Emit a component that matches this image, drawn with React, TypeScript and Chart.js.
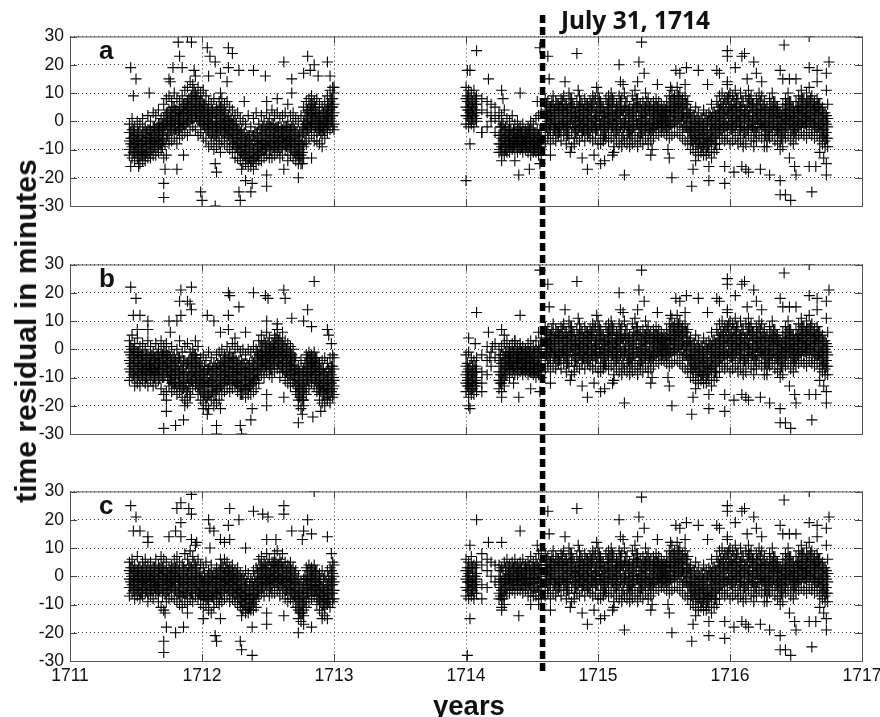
import React, { useEffect, useRef } from "react";
import { Chart, registerables } from "chart.js";

Chart.register(...registerables);

const FONT = '"Liberation Sans", Arial, sans-serif';
const yearTicks = ["1711", "1712", "1713", "1714", "1715", "1716", "1717"];
const eventYear = 1714.58;
const panelLetters = ["a", "b", "c"];

// Every row is [year, residual, residual, ...]
const lateBand = [
[1714.6,8,4,1,-3,-7],[1714.62,7,3,0,-4,-6,2],[1714.64,5,2,-1,-5,-8],[1714.66,9,6,2,-2,-6],[1714.68,7,3,-1,-3,-7],[1714.7,4,1,-2,-5,6],
[1714.72,8,5,1,-3,-7],[1714.74,9,4,0,-2,-5],[1714.76,6,3,-1,-4,-8],[1714.78,10,6,2,-2,-6],[1714.8,8,5,1,-4,-9],[1714.82,5,2,-2,-6,-8],
[1714.84,7,3,0,-3,-6],[1714.86,9,5,1,-2,-7],[1714.88,6,2,-1,-4,-5],[1714.9,8,4,0,-3,-7],[1714.92,6,3,-2,-5,1],[1714.94,7,4,1,-3,-6],
[1714.96,9,5,0,-4,-7],[1714.98,8,3,1,-2,-6],[1715,10,6,2,-3,-8],[1715.02,7,4,-1,-5,-8],[1715.04,5,2,-2,-6,-7],[1715.06,8,3,0,-4,-6],
[1715.08,9,5,1,-3,-7],[1715.1,10,6,2,-2,-6],[1715.12,7,2,-1,-5,-9],[1715.14,6,3,0,-3,-7],[1715.16,9,5,1,-4,-8],[1715.18,8,4,-1,-6,-9],
[1715.2,10,5,0,-2,-7],[1715.22,7,3,-2,-5,-8],[1715.24,5,1,-3,-6,-9],[1715.26,9,4,0,-4,-8],[1715.28,11,6,2,-3,-7],[1715.3,8,5,-1,-6,-9],
[1715.32,6,2,-2,-5,-7],[1715.34,7,3,0,-4,-8],[1715.36,10,5,1,-3,-6],[1715.38,8,4,-1,-5,-8],[1715.4,6,2,-2,-4,-7],[1715.42,7,4,1,-3,-6],
[1715.44,8,5,2,-1,-4],[1715.46,7,4,1,-2,-5],[1715.48,6,3,0,-2,-4],[1715.5,5,3,1,-1,-4],[1715.52,7,4,0,-3,-5],[1715.54,9,5,2,-2,-6],
[1715.56,11,7,3,-1,-5],[1715.58,9,6,2,-2,-4],[1715.6,12,8,4,0,-4],[1715.62,10,6,3,-1,-5],[1715.64,8,5,2,-3,-6],[1715.66,9,6,1,-2,-7],
[1715.68,7,3,0,-4,-8],[1715.7,4,1,-3,-6,-10],[1715.72,2,-2,-5,-8,-10],[1715.74,5,0,-4,-7,-11],[1715.76,3,-1,-5,-9,-12],[1715.78,1,-3,-6,-9,-11],
[1715.8,4,-1,-4,-8,-12],[1715.82,2,-2,-6,-10,-12],[1715.84,3,0,-5,-8,-11],[1715.86,6,1,-3,-7,-10],[1715.88,3,-1,-4,-8,-11],[1715.9,7,2,-2,-6,-10],
[1715.92,9,4,0,-4,-8],[1715.94,10,5,1,-3,-6],[1715.96,8,3,-1,-5,-7],[1715.98,13,8,3,-2,-6],[1716,10,5,1,-3,-8],[1716.02,9,4,0,-4,-7],
[1716.04,11,6,2,-2,-6],[1716.06,8,3,0,-5,-8],[1716.08,10,5,1,-3,-7],[1716.1,7,2,-2,-6,-9],[1716.12,9,4,1,-4,-8],[1716.14,11,7,2,-2,-5],
[1716.16,9,5,0,-3,-7],[1716.18,6,2,-2,-6,-9],[1716.2,8,4,1,-4,-7],[1716.22,10,6,2,-1,-5],[1716.24,9,4,0,-3,-6],[1716.26,7,3,-1,-5,-9],
[1716.28,5,1,-3,-7,-9],[1716.3,8,4,0,-4,-6],[1716.32,10,5,2,-2,-5],[1716.34,7,4,1,-3,-7],[1716.36,5,2,-2,-5,-8],[1716.38,3,0,-3,-7,-10],
[1716.4,6,2,-1,-5,-9],[1716.42,8,4,1,-3,-6],[1716.44,10,6,2,-1,-5],[1716.46,7,3,0,-4,-7],[1716.48,5,1,-2,-5,-8],[1716.5,7,4,0,-3,-6],
[1716.52,9,5,2,-2,-5],[1716.54,11,7,3,-1,-4],[1716.56,8,4,1,-2,-5],[1716.58,10,6,2,-2,-6],[1716.6,12,7,3,0,-4],[1716.62,9,5,1,-3,-5],
[1716.64,7,4,0,-2,-6],[1716.66,8,5,2,-2,-5],[1716.68,6,3,-1,-4,-7],[1716.7,5,1,-3,-6,-8],[1716.72,3,0,-4,-7,-9],[1716.74,6,1,-2,-6,-9],
];
const lateCore = [
[1714.61,6,3,1,-2],[1714.63,5,2,-1,-3],[1714.65,7,4,1,-1],[1714.67,4,2,0,-3],[1714.69,6,3,-1,-4],[1714.71,5,1,-2,-4],[1714.73,7,4,2,-1],[1714.75,6,3,0,-3],[1714.77,4,1,-2,-5],[1714.79,8,5,2,-1],[1714.81,6,3,0,-2],[1714.83,3,1,-2,-4],[1714.85,5,2,0,-3],[1714.87,7,4,1,-2],[1714.89,4,2,-1,-3],
[1714.91,6,3,0,-3],[1714.93,5,2,-1,-4],[1714.95,6,4,1,-2],[1714.97,7,3,0,-2],[1714.99,5,2,-1,-3],[1715.01,8,5,2,-1],[1715.03,5,2,0,-3],[1715.05,3,1,-2,-5],[1715.07,6,3,1,-2],[1715.09,7,4,1,-1],[1715.11,8,5,2,-2],[1715.13,4,2,-1,-4],[1715.15,5,3,0,-3],[1715.17,7,3,1,-2],[1715.19,4,2,-2,-5],
[1715.21,7,4,1,-1],[1715.23,4,1,-2,-4],[1715.25,3,0,-3,-5],[1715.27,6,3,0,-2],[1715.29,8,5,2,-1],[1715.31,5,2,-1,-4],[1715.33,4,1,-2,-4],[1715.35,5,3,0,-3],[1715.37,7,4,1,-2],[1715.39,5,2,-1,-3],[1715.41,4,1,-1,-3],[1715.43,5,3,1,-2],[1715.45,5,3,1,-1],[1715.47,4,2,0,-2],[1715.49,4,2,0,-2],[1715.51,4,2,0,-2],[1715.53,5,2,0,-2],
[1715.55,7,4,2,-1],[1715.57,8,5,2,0],[1715.59,7,5,3,0],[1715.61,9,6,3,1],[1715.63,7,5,2,0],[1715.65,6,3,1,-2],[1715.67,6,4,1,-2],[1715.69,3,1,-2,-4],[1715.71,1,-2,-4,-7],[1715.73,2,-1,-4,-6],[1715.75,1,-2,-5,-8],[1715.77,0,-3,-6,-8],[1715.79,1,-2,-5,-9],[1715.81,1,-3,-6,-8],[1715.83,0,-4,-7,-9],[1715.85,2,-1,-4,-7],[1715.87,3,0,-3,-6],[1715.89,2,-2,-5,-8],
[1715.91,5,2,-1,-4],[1715.93,6,3,0,-3],[1715.95,6,3,1,-2],[1715.97,7,4,1,-2],[1715.99,9,5,2,-1],[1716.01,6,3,0,-3],[1716.03,7,4,1,-2],[1716.05,8,5,2,-1],[1716.07,5,2,0,-3],[1716.09,7,4,1,-2],[1716.11,4,1,-2,-4],[1716.13,6,3,0,-3],[1716.15,8,5,2,-1],[1716.17,6,3,0,-2],[1716.19,4,1,-2,-4],
[1716.21,6,3,1,-2],[1716.23,7,4,2,-1],[1716.25,6,3,0,-2],[1716.27,4,1,-2,-5],[1716.29,3,0,-2,-5],[1716.31,6,3,1,-2],[1716.33,7,4,2,-1],[1716.35,5,3,0,-3],[1716.37,3,1,-2,-4],[1716.39,2,0,-3,-6],[1716.41,4,1,-1,-4],[1716.43,6,3,1,-2],[1716.45,7,4,2,-1],[1716.47,5,2,0,-3],[1716.49,3,1,-2,-4],
[1716.51,5,3,0,-2],[1716.53,7,4,2,-1],[1716.55,8,5,3,0],[1716.57,6,3,1,-1],[1716.59,7,5,2,0],[1716.61,8,5,3,0],[1716.63,6,4,1,-1],[1716.65,5,3,1,-2],[1716.67,6,3,1,-2],[1716.69,4,1,-1,-4],[1716.71,3,0,-3,-5],[1716.73,2,-1,-4,-6],
];

const lateOutliers = [
[1714.62,23],[1714.63,15],[1714.75,14],[1714.84,24],[1714.85,11],[1714.99,12],[1715.16,20],[1715.17,14],[1715.19,13],[1715.3,14],[1715.31,21],[1715.33,28],[1715.35,17],[1715.45,13],
[1715.55,12],[1715.59,18],[1715.62,17],[1715.66,13],[1715.67,19],[1715.76,18],[1715.83,13],[1715.9,18],[1715.92,17],[1715.98,25],[1715.98,23],[1715.98,14],[1716.04,19],[1716.09,23],[1716.11,24],
[1716.13,15],[1716.18,21],[1716.2,17],[1716.24,14],[1716.38,18],[1716.4,15],[1716.41,27],[1716.45,15],[1716.5,15],[1716.6,30],[1716.6,19],[1716.66,18],[1716.66,14],[1716.73,17],[1716.73,11],[1716.75,21],
[1714.64,-12],[1714.79,-11],[1714.88,-13],[1714.92,-17],[1714.97,-12],[1715.02,-15],[1715.05,-14],[1715.11,-12],[1715.12,-11],[1715.2,-19],[1715.4,-12],[1715.41,-10],[1715.53,-10],[1715.54,-13],[1715.56,-20],
[1715.71,-23],[1715.72,-17],[1715.74,-14],[1715.84,-16],[1715.84,-21],[1715.86,-13],[1715.96,-22],[1715.96,-16],[1716.03,-18],[1716.09,-16],[1716.12,-17],[1716.14,-18],[1716.23,-17],[1716.3,-19],
[1716.38,-21],[1716.38,-26],[1716.42,-26],[1716.45,-13],[1716.46,-28],[1716.49,-16],[1716.5,-19],[1716.6,-16],[1716.62,-25],[1716.65,-16],[1716.68,-11],[1716.71,-13],[1716.73,-15],[1716.73,-19],
];

const panelABand = [
[1711.45,-1,-4,-7,-10,-12],[1711.47,1,-3,-6,-9,-13],[1711.49,-2,-5,-8,-11,-14],[1711.51,0,-4,-7,-10,-13],[1711.53,-1,-5,-8,-12,-15],[1711.55,1,-3,-7,-11,-14],
[1711.57,-2,-6,-9,-12,-14],[1711.59,2,-3,-6,-10,-13],[1711.61,0,-4,-7,-11,-13],[1711.63,3,-2,-5,-9,-12],[1711.65,2,-3,-6,-8,-12],[1711.67,4,-1,-4,-7,-11],
[1711.69,1,-2,-5,-8,-10],[1711.71,6,1,-3,-7,-13],[1711.73,8,3,-1,-6,-12],[1711.75,9,4,0,-4,-8],[1711.77,7,3,0,-3,-7],[1711.79,10,5,1,-2,-6],[1711.81,8,4,1,-4,-8],
[1711.83,7,3,-1,-3,-6],[1711.85,9,5,2,-2,-5],[1711.87,11,6,3,-1,-4],[1711.89,12,7,3,0,-5],[1711.91,14,8,4,1,-3],[1711.93,13,9,5,1,-2],[1711.95,16,10,6,2,-3],[1711.97,12,8,4,0,-5],
[1711.99,10,7,3,0,-4],[1712.01,11,6,3,-1,-6],[1712.03,9,5,1,-3,-7],[1712.05,7,4,0,-4,-9],[1712.07,6,2,-1,-5,-8],[1712.09,8,3,-2,-6,-10],[1712.11,5,1,-3,-7,-9],[1712.13,7,3,-1,-5,-8],
[1712.15,8,4,0,-4,-7],[1712.17,6,2,-2,-6,-8],[1712.19,7,1,-3,-5,-9],[1712.21,5,0,-3,-7,-10],[1712.23,4,-1,-4,-8,-11],[1712.25,2,-2,-6,-9,-13],[1712.27,3,-3,-7,-10,-13],[1712.29,1,-4,-8,-11,-14],
[1712.31,0,-5,-9,-12,-15],[1712.33,-1,-6,-10,-13,-15],[1712.35,2,-5,-9,-13,-16],[1712.37,-2,-7,-11,-14,-16],[1712.39,1,-5,-10,-13,-17],[1712.41,3,-4,-8,-12,-15],[1712.43,-1,-6,-9,-12,-14],[1712.45,2,-3,-7,-11,-14],
[1712.47,0,-4,-8,-10,-13],[1712.49,3,-2,-6,-9,-12],[1712.51,1,-3,-7,-10,-13],[1712.53,4,-1,-5,-9,-13],[1712.55,2,-3,-6,-9,-12],[1712.57,3,-2,-5,-8,-11],[1712.59,1,-4,-7,-10,-13],[1712.61,2,-3,-6,-9,-12],
[1712.63,3,-2,-5,-8,-10],[1712.65,0,-4,-7,-10,-14],[1712.67,2,-3,-6,-9,-12],[1712.69,3,-1,-5,-9,-13],[1712.71,1,-4,-8,-11,-14],[1712.73,0,-5,-9,-12,-15],[1712.75,2,-4,-8,-12,-15],[1712.77,5,0,-4,-9,-13],
[1712.79,7,3,-1,-4,-8],[1712.81,8,4,1,-2,-6],[1712.83,9,5,2,-1,-5],[1712.85,7,4,1,-3,-7],[1712.87,8,3,0,-4,-7],[1712.89,6,2,-1,-3,-8],[1712.91,5,1,-2,-5,-9],[1712.93,7,3,0,-3,-6],[1712.95,9,5,2,-1,-4],[1712.97,11,7,4,1,-3],[1712.99,12,8,5,2,-2],[1713,10,6,3,-1,-3],
[1714,12,8,5,2,-1],[1714.02,11,7,4,1,-2],[1714.04,10,6,3,0,-1],[1714.06,11,7,4,2,-2],[1714.08,9,6,3,1,0],
[1714.12,8,4,-4],[1714.16,7,3,-2],[1714.19,6,2,0],[1714.22,5,1,-4],
[1714.25,3,0,-5,-8,-11],[1714.27,2,-2,-6,-9,-11],[1714.29,4,-3,-6,-9,-12],[1714.31,1,-4,-7,-10,-11],[1714.33,0,-3,-6,-9,-11],[1714.35,2,-4,-7,-9,-10],[1714.37,-1,-4,-6,-8,-10],[1714.39,0,-3,-6,-8,-11],
[1714.41,-2,-4,-6,-9,-10],[1714.43,-1,-5,-7,-9,-11],[1714.45,-3,-5,-7,-8,-10],[1714.47,-2,-4,-6,-9,-11],[1714.49,0,-4,-7,-9,-12],[1714.51,-1,-5,-7,-10,-11],[1714.53,1,-4,-7,-9,-11],[1714.55,2,-5,-8,-10,-12],[1714.57,3,-3,-7,-9,-12],
];
const panelACore = [
[1711.46,-4,-6,-8,-10],[1711.48,-3,-6,-8,-11],[1711.5,-5,-7,-9,-11],[1711.52,-4,-7,-9,-12],[1711.54,-5,-8,-10,-12],[1711.56,-4,-7,-10,-12],[1711.58,-4,-6,-9,-11],[1711.6,-3,-6,-8,-11],[1711.62,-4,-6,-8,-10],[1711.64,-2,-5,-7,-9],[1711.66,-2,-4,-7,-9],[1711.68,-1,-3,-5,-8],[1711.7,-1,-4,-6,-9],[1711.72,2,-1,-3,-8],[1711.74,3,0,-2,-5],
[1711.76,3,1,-1,-3],[1711.78,5,2,0,-3],[1711.8,4,1,-1,-3],[1711.82,3,1,-1,-3],[1711.84,4,2,0,-2],[1711.86,6,3,1,-1],[1711.88,6,4,1,-1],[1711.9,8,5,2,0],[1711.92,9,6,3,1],[1711.94,11,7,4,1],[1711.96,9,6,3,1],[1711.98,7,5,2,0],[1712,7,4,2,-1],[1712.02,6,3,1,-2],[1712.04,4,2,-1,-3],[1712.06,3,1,-1,-4],[1712.08,4,1,-2,-4],[1712.1,3,0,-2,-5],[1712.12,4,1,-2,-4],[1712.14,5,2,0,-3],[1712.16,4,1,-1,-4],[1712.18,3,0,-2,-4],[1712.2,2,0,-3,-5],[1712.22,1,-1,-4,-6],[1712.24,0,-3,-5,-8],
[1712.26,-1,-3,-6,-9],[1712.28,-3,-5,-8,-10],[1712.3,-3,-6,-9,-11],[1712.32,-4,-7,-10,-12],[1712.34,-5,-7,-10,-13],[1712.36,-5,-8,-11,-13],[1712.38,-5,-8,-11,-14],[1712.4,-4,-7,-10,-13],[1712.42,-4,-7,-10,-12],[1712.44,-3,-6,-9,-11],[1712.46,-2,-5,-8,-10],[1712.48,-3,-5,-8,-10],[1712.5,-1,-4,-7,-9],[1712.52,-2,-5,-8,-10],[1712.54,-1,-4,-6,-9],[1712.56,-2,-4,-7,-9],[1712.58,-2,-5,-7,-9],[1712.6,-2,-4,-6,-9],[1712.62,-2,-4,-6,-8],[1712.64,-2,-4,-7,-9],[1712.66,-3,-5,-7,-9],[1712.68,-2,-5,-7,-10],[1712.7,-3,-6,-8,-11],[1712.72,-4,-7,-10,-12],[1712.74,-4,-7,-10,-13],[1712.76,-2,-5,-8,-11],
[1712.78,2,-1,-3,-7],[1712.8,4,1,-1,-3],[1712.82,6,3,0,-2],[1712.84,6,3,1,-1],[1712.86,5,2,0,-2],[1712.88,3,1,-1,-3],[1712.9,2,0,-2,-4],[1712.92,3,1,-1,-3],[1712.94,4,2,0,-2],[1712.96,6,3,1,-1],[1712.98,8,5,2,0],
[1714.01,9,7,4,2],[1714.03,8,5,3,1],[1714.05,7,5,3,1],[1714.07,8,6,3,1],
[1714.26,-2,-5,-8,-10],[1714.28,-1,-4,-7,-10],[1714.3,-2,-5,-8,-10],[1714.32,-3,-5,-7,-9],[1714.34,-3,-5,-8,-9],[1714.36,-3,-5,-7,-9],[1714.38,-4,-6,-7,-9],[1714.4,-3,-5,-7,-9],[1714.42,-4,-6,-8,-9],[1714.44,-4,-6,-7,-9],[1714.46,-4,-6,-8,-9],[1714.48,-3,-5,-7,-9],[1714.5,-3,-6,-8,-10],[1714.52,-4,-6,-8,-10],[1714.54,-3,-6,-8,-10],[1714.56,-3,-6,-8,-10],
];
const panelAOutliers = [
[1711.46,19],[1711.48,9],[1711.5,15],[1711.6,10],[1711.75,15],[1711.76,14],[1711.78,19],[1711.82,28],[1711.83,23],[1711.85,19],[1711.89,30],[1711.92,28],[1711.94,18],[1712.04,26],[1712.05,16],[1712.06,23],[1712.1,21],[1712.14,17],[1712.14,10],[1712.19,14],[1712.2,26],[1712.2,19],[1712.23,24],[1712.28,18],[1712.32,7],[1712.39,18],[1712.48,16],[1712.49,7],[1712.57,8],[1712.62,21],[1712.65,6],[1712.68,15],[1712.68,10],[1712.77,17],[1712.8,23],[1712.82,18],[1712.85,20],[1712.88,16],[1712.95,21],[1712.97,16],[1713,12],
[1711.46,-16],[1711.52,-16],[1711.71,-27],[1711.71,-22],[1711.72,-17],[1711.81,-17],[1711.86,-12],[1711.99,-25],[1712,-28],[1712.1,-30],[1712.1,-15],[1712.11,-18],[1712.14,-11],[1712.28,-25],[1712.29,-28],[1712.3,-17],[1712.33,-21],[1712.37,-25],[1712.38,-22],[1712.49,-23],[1712.49,-19],[1712.62,-17],[1712.73,-20],[1712.76,-15],[1712.83,-13],
[1714,-21],[1714.01,18],[1714.03,18],[1714.03,-8],[1714.08,25],[1714.12,-4],[1714.17,15],[1714.27,11],[1714.27,-14],[1714.28,8],[1714.37,-14],[1714.4,-19],[1714.41,10],[1714.48,-17],[1714.56,26],[1714.56,-15],[1714.54,7],
];

const panelBBand = [
[1711.45,3,-1,-4,-7,-11],[1711.47,5,0,-3,-6,-10],[1711.49,2,-2,-5,-9,-13],[1711.51,4,-1,-4,-8,-12],[1711.53,1,-3,-6,-10,-13],[1711.55,2,-2,-5,-8,-11],[1711.57,0,-4,-7,-10,-12],[1711.59,3,-2,-6,-9,-13],
[1711.61,1,-3,-6,-8,-11],[1711.63,-1,-4,-7,-10,-13],[1711.65,2,-3,-5,-8,-12],[1711.67,0,-4,-7,-9,-11],[1711.69,3,-1,-5,-9,-14],[1711.71,1,-3,-6,-10,-16],[1711.73,2,-2,-5,-8,-15],[1711.75,-1,-5,-8,-11,-13],
[1711.77,1,-4,-8,-12,-15],[1711.79,-2,-6,-9,-12,-14],[1711.81,0,-5,-9,-13,-16],[1711.83,3,-3,-8,-12,-15],[1711.85,-1,-6,-10,-14,-17],[1711.87,1,-4,-9,-13,-18],[1711.89,2,-5,-10,-15,-19],[1711.91,-1,-5,-9,-12,-16],
[1711.93,0,-4,-8,-11,-14],[1711.95,3,-2,-6,-10,-13],[1711.97,1,-5,-9,-13,-16],[1711.99,-3,-7,-11,-15,-18],[1712.01,-2,-8,-12,-16,-19],[1712.03,-4,-9,-13,-17,-20],[1712.05,-1,-7,-12,-16,-21],[1712.07,-3,-8,-11,-15,-18],
[1712.09,-5,-9,-13,-16,-20],[1712.11,-2,-7,-11,-15,-19],[1712.13,-1,-6,-10,-14,-18],[1712.15,0,-5,-9,-13,-16],[1712.17,-2,-6,-9,-12,-15],[1712.19,1,-4,-8,-11,-14],[1712.21,-1,-5,-8,-12,-15],[1712.23,2,-3,-7,-10,-14],
[1712.25,0,-4,-8,-11,-13],[1712.27,1,-5,-9,-12,-15],[1712.29,-1,-6,-10,-13,-16],[1712.31,0,-5,-9,-13,-16],[1712.33,-2,-7,-11,-14,-17],[1712.35,0,-6,-10,-14,-16],[1712.37,-1,-7,-11,-13,-16],[1712.39,1,-5,-9,-12,-15],
[1712.41,0,-4,-8,-11,-14],[1712.43,3,-2,-5,-9,-12],[1712.45,5,1,-3,-6,-9],[1712.47,3,-1,-4,-7,-10],[1712.49,6,1,-3,-5,-8],[1712.51,4,0,-2,-6,-9],[1712.53,2,-1,-4,-7,-10],[1712.55,5,1,-2,-5,-8],[1712.57,7,3,-1,-4,-7],
[1712.59,4,0,-3,-6,-10],[1712.61,6,2,-2,-5,-8],[1712.63,3,-1,-4,-8,-11],[1712.65,2,-2,-5,-9,-12],[1712.67,1,-3,-6,-10,-13],[1712.69,0,-4,-7,-9,-12],[1712.71,-3,-7,-10,-13,-15],[1712.73,-6,-10,-14,-18,-20],[1712.75,-4,-9,-13,-17,-21],[1712.77,-7,-11,-15,-18,-20],
[1712.79,-2,-5,-9,-13,-16],[1712.81,-1,-4,-7,-11,-14],[1712.83,-2,-5,-8,-10,-12],[1712.85,-1,-4,-6,-9,-13],[1712.87,-3,-6,-9,-12,-15],[1712.89,-5,-9,-13,-16,-18],[1712.91,-4,-8,-12,-15,-19],[1712.93,-3,-9,-13,-16,-20],[1712.95,-5,-10,-14,-17,-18],[1712.97,-3,-8,-12,-16,-19],[1712.99,-2,-6,-10,-14,-17],[1713,-3,-7,-11,-13,-16],
[1714,-2,-6,-9,-12,-15],[1714.02,-1,-7,-10,-13,-17],[1714.04,-3,-8,-11,-14,-16],[1714.06,-4,-8,-10,-13,-16],[1714.08,-3,-7,-10,-12,-15],
[1714.12,-2,-8,-12],[1714.16,1,-4,-9],[1714.19,-1,-6],[1714.22,2,-3],
[1714.25,0,-4,-8,-11,-14],[1714.27,1,-5,-9,-12,-15],[1714.29,2,-3,-7,-10,-13],[1714.31,3,-1,-4,-6,-9],[1714.33,1,-2,-5,-7,-10],[1714.35,2,-1,-4,-6,-8],[1714.37,3,0,-3,-6,-9],[1714.39,1,-2,-4,-7,-9],
[1714.41,2,0,-3,-5,-8],[1714.43,1,-2,-5,-7,-9],[1714.45,0,-2,-4,-6,-8],[1714.47,2,-1,-3,-6,-9],[1714.49,3,-1,-4,-7,-8],[1714.51,1,-2,-5,-7,-9],[1714.53,3,0,-4,-7,-10],[1714.55,6,1,-3,-6,-9],[1714.57,4,0,-4,-8,-10],
];
const panelBCore = [
[1711.46,1,-2,-5,-8],[1711.48,0,-3,-6,-9],[1711.5,-1,-4,-7,-10],[1711.52,-1,-3,-6,-9],[1711.54,-2,-4,-7,-9],[1711.56,-2,-5,-7,-9],[1711.58,-2,-4,-7,-10],[1711.6,-3,-5,-7,-9],[1711.62,-2,-5,-7,-9],[1711.64,-3,-5,-8,-10],[1711.66,-2,-5,-7,-9],[1711.68,-3,-5,-7,-10],[1711.7,-2,-4,-7,-10],[1711.72,-1,-4,-6,-9],[1711.74,-2,-5,-7,-10],
[1711.76,-3,-6,-9,-11],[1711.78,-3,-6,-9,-12],[1711.8,-4,-7,-10,-12],[1711.82,-3,-6,-9,-12],[1711.84,-4,-7,-10,-13],[1711.86,-4,-8,-11,-14],[1711.88,-5,-8,-12,-15],[1711.9,-4,-7,-10,-13],[1711.92,-3,-6,-9,-11],[1711.94,-2,-5,-8,-10],[1711.96,-3,-6,-9,-12],[1711.98,-5,-8,-11,-14],[1712,-6,-9,-12,-15],[1712.02,-6,-10,-13,-16],[1712.04,-7,-10,-13,-17],[1712.06,-6,-9,-12,-16],[1712.08,-7,-10,-13,-15],[1712.1,-6,-10,-13,-16],[1712.12,-5,-8,-11,-14],[1712.14,-4,-7,-10,-13],
[1712.16,-4,-6,-9,-12],[1712.18,-3,-6,-8,-11],[1712.2,-3,-6,-9,-11],[1712.22,-3,-5,-8,-11],[1712.24,-3,-6,-8,-11],[1712.26,-4,-7,-9,-12],[1712.28,-4,-7,-10,-13],[1712.3,-4,-7,-10,-13],[1712.32,-5,-8,-11,-14],[1712.34,-5,-8,-11,-14],[1712.36,-5,-8,-11,-13],[1712.38,-4,-7,-10,-12],[1712.4,-3,-6,-9,-11],[1712.42,-1,-4,-7,-9],[1712.44,1,-2,-4,-7],[1712.46,1,-2,-4,-6],[1712.48,2,-1,-3,-6],[1712.5,2,-1,-3,-5],[1712.52,1,-2,-4,-7],[1712.54,2,0,-3,-5],[1712.56,4,1,-1,-4],[1712.58,3,0,-2,-5],[1712.6,2,-1,-3,-6],[1712.62,1,-2,-4,-7],[1712.64,0,-3,-5,-8],[1712.66,-1,-4,-6,-9],[1712.68,-2,-4,-6,-9],[1712.7,-3,-6,-9,-11],[1712.72,-7,-10,-13,-16],[1712.74,-8,-11,-14,-17],[1712.76,-8,-12,-15,-18],
[1712.78,-5,-8,-11,-14],[1712.8,-3,-6,-9,-11],[1712.82,-3,-5,-8,-10],[1712.84,-3,-5,-7,-10],[1712.86,-3,-6,-8,-11],[1712.88,-5,-8,-11,-14],[1712.9,-7,-10,-13,-15],[1712.92,-7,-11,-14,-16],[1712.94,-8,-11,-14,-16],[1712.96,-7,-11,-14,-16],[1712.98,-6,-9,-12,-15],
[1714.01,-5,-8,-11,-13],[1714.03,-6,-9,-12,-14],[1714.05,-6,-9,-12,-14],[1714.07,-6,-8,-11,-13],
[1714.26,-2,-6,-9,-12],[1714.28,-2,-5,-8,-11],[1714.3,-1,-3,-6,-9],[1714.32,-1,-3,-5,-7],[1714.34,-1,-3,-5,-7],[1714.36,-1,-3,-5,-7],[1714.38,-1,-3,-5,-7],[1714.4,-1,-3,-5,-7],[1714.42,-1,-3,-5,-7],[1714.44,-1,-3,-5,-7],[1714.46,-1,-3,-5,-7],[1714.48,-1,-3,-5,-8],[1714.5,-1,-3,-5,-8],[1714.52,-1,-3,-6,-8],[1714.54,-1,-4,-6,-8],[1714.56,0,-3,-6,-9],
];
const panelBOutliers = [
[1711.46,22],[1711.48,12],[1711.5,18],[1711.51,7],[1711.53,12],[1711.59,10],[1711.59,7],[1711.75,10],[1711.76,6],[1711.81,10],[1711.83,17],[1711.84,21],[1711.84,12],[1711.89,17],[1711.91,16],[1711.92,22],[1711.92,14],[1712.04,12],[1712.09,10],[1712.14,6],[1712.2,20],[1712.2,12],[1712.2,7],[1712.21,19],[1712.25,4],[1712.28,15],[1712.33,6],[1712.39,20],[1712.48,19],[1712.49,10],[1712.5,18],[1712.57,9],[1712.62,21],[1712.63,18],[1712.68,11],[1712.77,10],[1712.8,14],[1712.83,8],[1712.85,24],[1712.95,7],[1712.96,5],[1712.98,2],
[1711.71,-28],[1711.73,-22],[1711.73,-18],[1711.8,-27],[1711.86,-25],[1711.87,-20],[1711.91,-17],[1712.01,-21],[1712.04,-23],[1712.11,-27],[1712.11,-30],[1712.14,-21],[1712.29,-27],[1712.3,-30],[1712.3,-16],[1712.37,-25],[1712.38,-21],[1712.49,-20],[1712.49,-16],[1712.62,-17],[1712.73,-26],[1712.76,-23],[1712.84,-24],[1712.9,-22],
[1714.02,4],[1714.02,-20],[1714.03,-21],[1714.07,2],[1714.08,13],[1714.12,-15],[1714.17,6],[1714.18,-3],[1714.2,1],[1714.27,7],[1714.27,-17],[1714.29,5],[1714.36,-12],[1714.37,3],[1714.4,-17],[1714.41,12],[1714.49,-14],[1714.56,28],[1714.56,-15],
];

const panelCBand = [
[1711.45,5,2,-1,-4,-7],[1711.47,6,3,0,-3,-6],[1711.49,4,1,-2,-5,-8],[1711.51,7,2,-1,-4,-7],[1711.53,3,0,-3,-6,-8],[1711.55,5,1,-2,-5,-7],[1711.57,6,2,-1,-3,-6],[1711.59,4,0,-3,-6,-9],
[1711.61,5,1,-1,-4,-7],[1711.63,3,0,-2,-5,-8],[1711.65,6,2,-2,-4,-6],[1711.67,4,1,-3,-6,-9],[1711.69,7,3,0,-4,-11],[1711.71,6,2,-1,-5,-12],[1711.73,5,1,-2,-6,-9],[1711.75,3,0,-3,-5,-8],
[1711.77,4,1,-2,-4,-7],[1711.79,6,2,-1,-4,-8],[1711.81,7,3,0,-5,-9],[1711.83,5,1,-2,-6,-10],[1711.85,4,0,-4,-7,-11],[1711.87,8,2,-2,-6,-9],[1711.89,6,1,-3,-7,-10],[1711.91,9,3,-1,-5,-8],
[1711.93,7,2,-2,-6,-9],[1711.95,11,4,0,-4,-7],[1711.97,6,1,-3,-6,-8],[1711.99,4,0,-4,-7,-10],[1712.01,3,-2,-5,-8,-11],[1712.03,5,-1,-4,-7,-10],[1712.05,2,-2,-6,-9,-12],[1712.07,4,0,-3,-7,-13],
[1712.09,1,-2,-5,-8,-11],[1712.11,3,-1,-4,-6,-9],[1712.13,2,-2,-5,-8,-10],[1712.15,4,0,-3,-6,-9],[1712.17,6,1,-2,-5,-8],[1712.19,5,2,-1,-4,-7],[1712.21,3,0,-3,-6,-9],[1712.23,4,1,-2,-5,-8],
[1712.25,2,-1,-4,-7,-9],[1712.27,3,0,-3,-6,-10],[1712.29,1,-3,-6,-9,-11],[1712.31,0,-4,-7,-10,-12],[1712.33,2,-3,-7,-10,-13],[1712.35,1,-5,-8,-11,-13],[1712.37,-1,-5,-8,-11,-12],[1712.39,2,-4,-7,-10,-12],
[1712.41,3,-2,-5,-8,-11],[1712.43,6,1,-2,-5,-7],[1712.45,7,3,0,-3,-6],[1712.47,5,2,-1,-4,-7],[1712.49,8,3,0,-2,-5],[1712.51,6,1,-2,-4,-7],[1712.53,5,2,-1,-3,-6],[1712.55,8,4,0,-3,-6],
[1712.57,9,4,1,-2,-5],[1712.59,6,2,-1,-4,-7],[1712.61,8,3,0,-3,-6],[1712.63,5,1,-2,-5,-8],[1712.65,4,0,-3,-6,-9],[1712.67,5,1,-2,-4,-8],[1712.69,3,-1,-4,-6,-9],[1712.71,2,-2,-5,-8,-11],
[1712.73,0,-4,-8,-12,-15],[1712.75,-2,-6,-10,-13,-16],[1712.77,-1,-5,-9,-12,-14],[1712.79,3,-1,-4,-8,-11],[1712.81,4,0,-3,-6,-9],[1712.83,3,-1,-4,-7,-8],[1712.85,4,1,-2,-5,-7],[1712.87,2,-2,-5,-7,-10],
[1712.89,1,-3,-6,-9,-12],[1712.91,2,-4,-7,-10,-13],[1712.93,0,-5,-8,-11,-14],[1712.95,2,-3,-6,-10,-15],[1712.97,3,-2,-5,-8,-11],[1712.99,5,1,-3,-6,-9],[1713,4,0,-2,-5,-8],
[1714,6,2,-1,-4,-7],[1714.02,5,1,-2,-5,-8],[1714.04,7,3,-2,-5,-7],[1714.06,4,0,-3,-6,-8],[1714.08,5,1,-1,-4,-6],
[1714.12,8,4,-3],[1714.16,6,2,-4],[1714.19,5,0],[1714.22,4,-2],
[1714.25,4,0,-3,-6,-8],[1714.27,3,-2,-5,-8,-11],[1714.29,5,-1,-4,-7,-10],[1714.31,6,2,-1,-4,-6],[1714.33,4,1,-2,-4,-6],[1714.35,5,2,-1,-3,-5],[1714.37,6,3,0,-3,-6],[1714.39,4,1,-2,-4,-5],
[1714.41,5,2,0,-3,-5],[1714.43,6,1,-1,-4,-6],[1714.45,4,2,-1,-3,-5],[1714.47,5,1,-2,-4,-7],[1714.49,7,2,-1,-4,-6],[1714.51,5,1,-2,-5,-7],[1714.53,6,2,-1,-4,-7],[1714.55,8,3,-1,-5,-8],[1714.57,9,4,0,-4,-8],
];
const panelCCore = [
[1711.46,3,1,-2,-4],[1711.48,2,-1,-3,-5],[1711.5,2,0,-3,-5],[1711.52,3,0,-2,-5],[1711.54,2,-1,-3,-6],[1711.56,3,0,-2,-4],[1711.58,2,-1,-3,-5],[1711.6,2,0,-2,-5],[1711.62,2,-1,-3,-5],[1711.64,3,0,-2,-4],[1711.66,2,-1,-3,-5],[1711.68,3,1,-2,-5],[1711.7,3,0,-3,-7],[1711.72,2,-1,-3,-6],[1711.74,1,-1,-3,-5],
[1711.76,2,0,-2,-4],[1711.78,3,0,-2,-4],[1711.8,3,0,-2,-5],[1711.82,2,-1,-3,-6],[1711.84,1,-2,-4,-7],[1711.86,3,0,-3,-6],[1711.88,2,-1,-4,-6],[1711.9,4,1,-2,-5],[1711.92,3,0,-3,-6],[1711.94,5,1,-2,-4],[1711.96,3,0,-2,-5],[1711.98,1,-1,-4,-6],[1712,0,-2,-4,-7],[1712.02,1,-2,-4,-7],[1712.04,0,-3,-5,-8],[1712.06,1,-2,-4,-7],[1712.08,0,-2,-4,-7],[1712.1,1,-2,-4,-6],[1712.12,1,-1,-4,-6],[1712.14,2,-1,-3,-6],
[1712.16,3,0,-2,-5],[1712.18,3,0,-2,-4],[1712.2,2,0,-3,-5],[1712.22,2,0,-2,-5],[1712.24,1,-1,-3,-6],[1712.26,1,-2,-4,-6],[1712.28,0,-3,-5,-8],[1712.3,-1,-4,-6,-9],[1712.32,-1,-4,-7,-10],[1712.34,-2,-5,-8,-11],[1712.36,-3,-6,-8,-11],[1712.38,-2,-5,-8,-10],[1712.4,0,-3,-6,-9],[1712.42,2,-1,-3,-6],[1712.44,4,1,-1,-4],[1712.46,3,1,-2,-4],[1712.48,4,2,-1,-3],[1712.5,4,1,-1,-3],[1712.52,3,1,-1,-4],[1712.54,5,2,0,-2],[1712.56,5,3,0,-2],[1712.58,4,1,-1,-3],[1712.6,5,2,-1,-3],[1712.62,3,0,-2,-4],[1712.64,2,0,-3,-5],[1712.66,3,0,-2,-5],[1712.68,2,-1,-3,-6],[1712.7,1,-2,-4,-7],[1712.72,-1,-4,-7,-11],[1712.74,-3,-6,-9,-13],[1712.76,-4,-7,-10,-13],
[1712.78,0,-3,-6,-9],[1712.8,2,-1,-3,-6],[1712.82,2,-1,-3,-5],[1712.84,2,0,-3,-5],[1712.86,2,-1,-3,-5],[1712.88,0,-3,-5,-8],[1712.9,-1,-4,-6,-9],[1712.92,-1,-4,-7,-10],[1712.94,-2,-5,-8,-10],[1712.96,0,-3,-6,-9],[1712.98,2,-1,-3,-6],
[1714.01,3,0,-2,-5],[1714.03,3,0,-2,-5],[1714.05,3,0,-3,-5],[1714.07,3,0,-2,-4],
[1714.26,2,-1,-4,-7],[1714.28,2,-2,-5,-8],[1714.3,3,0,-2,-5],[1714.32,3,1,-1,-3],[1714.34,3,1,-1,-3],[1714.36,3,1,-1,-3],[1714.38,3,1,-1,-3],[1714.4,3,1,-1,-3],[1714.42,3,1,-1,-3],[1714.44,3,1,-1,-3],[1714.46,3,1,-1,-3],[1714.48,4,1,-1,-3],[1714.5,3,1,-1,-4],[1714.52,3,1,-1,-4],[1714.54,4,1,-2,-4],[1714.56,4,1,-2,-5],
];
const panelCOutliers = [
[1711.46,25],[1711.48,16],[1711.5,21],[1711.53,16],[1711.59,14],[1711.59,12],[1711.75,14],[1711.8,16],[1711.81,24],[1711.84,26],[1711.84,19],[1711.84,14],[1711.9,24],[1711.92,29],[1711.92,22],[1711.92,13],[1711.96,12],[1712.05,20],[1712.06,17],[1712.06,10],[1712.09,16],[1712.14,13],[1712.14,6],[1712.17,12],[1712.2,18],[1712.21,24],[1712.21,13],[1712.28,20],[1712.33,10],[1712.39,23],[1712.46,22],[1712.49,13],[1712.5,21],[1712.56,13],[1712.62,25],[1712.62,22],[1712.68,16],[1712.76,13],[1712.77,16],[1712.8,20],[1712.83,15],[1712.85,30],[1712.95,14],[1712.98,8],
[1711.71,-27],[1711.71,-23],[1711.72,-13],[1711.73,-18],[1711.8,-20],[1711.86,-18],[1711.89,-13],[1712.01,-15],[1712.1,-21],[1712.11,-23],[1712.14,-15],[1712.29,-23],[1712.3,-26],[1712.3,-14],[1712.38,-28],[1712.38,-18],[1712.49,-17],[1712.49,-13],[1712.62,-14],[1712.73,-20],[1712.77,-17],[1712.83,-18],[1712.91,-15],
[1714.01,-28],[1714.03,11],[1714.03,-15],[1714.08,20],[1714.12,-8],[1714.17,12],[1714.27,12],[1714.27,-12],[1714.4,-14],[1714.41,16],[1714.49,-10],[1714.54,11],[1714.55,-10],
];

const panelBands = [panelABand, panelBBand, panelCBand];
const panelCores = [panelACore, panelBCore, panelCCore];
const panelOutliers = [panelAOutliers, panelBOutliers, panelCOutliers];

const PLOT_LEFT = 70;
const PLOT_RIGHT = 862;
const PANEL_TOPS = [35, 263, 490];
const PANEL_H = 171;
const TOP_PAD = 15;
const BOTTOM_ROOM = 34;

function toPoints(rows: number[][]) {
  return rows.flatMap(([x, ...ys]) => ys.map((y) => ({ x, y })));
}

const framePlugin = {
  id: "frame",
  afterDatasetsDraw(chart: any) {
    const { ctx, chartArea: a, scales } = chart;
    ctx.save();
    ctx.strokeStyle = "#444";
    ctx.lineWidth = 1;
    ctx.beginPath();
    for (const t of scales.y.ticks) {
      const p = Math.round(scales.y.getPixelForValue(t.value)) + 0.5;
      ctx.moveTo(a.left, p); ctx.lineTo(a.left + 7, p);
      ctx.moveTo(a.right, p); ctx.lineTo(a.right - 7, p);
    }
    for (const t of scales.x.ticks) {
      const p = Math.round(scales.x.getPixelForValue(t.value)) + 0.5;
      ctx.moveTo(p, a.top); ctx.lineTo(p, a.top + 7);
      ctx.moveTo(p, a.bottom); ctx.lineTo(p, a.bottom - 7);
    }
    ctx.stroke();
    ctx.strokeStyle = "#555";
    ctx.strokeRect(a.left + 0.5, a.top + 0.5, a.right - a.left, a.bottom - a.top);
    ctx.restore();
  },
};

function Panel({ index }: { index: number }) {
  const ref = useRef<HTMLCanvasElement>(null);
  useEffect(() => {
    const showX = index === 2;
    const chart = new Chart(ref.current!, {
      type: "scatter",
      data: {
        datasets: [
          {
            data: [
              ...toPoints(panelBands[index]),
              ...toPoints(panelCores[index]),
              ...toPoints(lateBand),
              ...toPoints(lateCore),
              ...toPoints(panelOutliers[index]),
              ...toPoints(lateOutliers),
            ],
            pointStyle: "cross",
            pointRadius: 5.5,
            pointBorderWidth: 1.1,
            pointBorderColor: "#000",
            pointBackgroundColor: "#000",
          },
        ],
      },
      options: {
        animation: false,
        responsive: false,
        layout: { padding: { left: 0, top: TOP_PAD, right: 880 - PLOT_RIGHT, bottom: 0 } },
        plugins: { legend: { display: false }, tooltip: { enabled: false } },
        scales: {
          x: {
            type: "linear",
            min: 1711,
            max: 1717,
            afterFit: (s: any) => {
              s.height = BOTTOM_ROOM;
              s.paddingLeft = 0;
              s.paddingRight = 0;
            },
            afterBuildTicks: (s: any) => { s.ticks = yearTicks.map((t) => ({ value: Number(t) })); },
            grid: { color: "#333", lineWidth: 1, tickLength: 0, drawTicks: false },
            border: { display: false, dash: [1, 3] },
            ticks: {
              display: showX,
              maxRotation: 0,
              autoSkip: false,
              padding: 5,
              color: "#111",
              font: { family: FONT, size: 17.5 },
              callback: (v: any) => String(v),
            },
          },
          y: {
            min: -30,
            max: 30,
            afterFit: (s: any) => { s.width = PLOT_LEFT; },
            grid: { color: "#333", lineWidth: 1, tickLength: 0, drawTicks: false },
            border: { display: false, dash: [1, 3] },
            ticks: {
              stepSize: 10,
              padding: 6,
              color: "#111",
              font: { family: FONT, size: 17.5 },
            },
          },
        },
      },
      plugins: [framePlugin],
    } as any);
    return () => chart.destroy();
  }, [index]);
  return (
    <canvas
      ref={ref}
      width={880}
      height={PANEL_H + TOP_PAD + BOTTOM_ROOM}
      style={{ position: "absolute", left: 0, top: PANEL_TOPS[index] - TOP_PAD, display: "block" }}
    />
  );
}

function EventLine() {
  const ref = useRef<HTMLCanvasElement>(null);
  useEffect(() => {
    const chart = new Chart(ref.current!, {
      type: "line",
      data: {
        datasets: [
          {
            data: [{ x: eventYear, y: 1 }, { x: eventYear, y: 0 }],
            borderColor: "#000",
            borderWidth: 5.5,
            borderDash: [8, 4],
            pointRadius: 0,
          },
        ],
      },
      options: {
        animation: false,
        responsive: false,
        layout: { padding: { left: PLOT_LEFT, top: 15, right: 880 - PLOT_RIGHT, bottom: 717 - 675 } },
        plugins: { legend: { display: false }, tooltip: { enabled: false } },
        scales: {
          x: { type: "linear", min: 1711, max: 1717, display: false },
          y: { min: 0, max: 1, display: false },
        },
      },
    } as any);
    return () => chart.destroy();
  }, []);
  return (
    <canvas
      ref={ref}
      width={880}
      height={717}
      style={{ position: "absolute", left: 0, top: 0, display: "block", pointerEvents: "none" }}
    />
  );
}

const label = (extra: React.CSSProperties): React.CSSProperties => ({
  position: "absolute",
  fontFamily: FONT,
  fontWeight: "bold",
  color: "#111",
  lineHeight: 1,
  whiteSpace: "nowrap",
  ...extra,
});

export default function App() {
  return (
    <div style={{ position: "fixed", left: 0, top: 0, width: 880, height: 717, overflow: "hidden", background: "#fff" }}>
      {panelLetters.map((_, i) => <Panel key={i} index={i} />)}
      {panelLetters.map((l, i) => (
        <div key={l} style={label({ left: 99, top: PANEL_TOPS[i] + 2, fontSize: 26 })}>{l}</div>
      ))}
      <EventLine />
      <div style={label({ left: 561, top: 8, fontSize: 24.5, fontFamily: '"Noto Sans", sans-serif' })}>July 31, 1714</div>
      <div style={label({ left: 433, top: 692, fontSize: 27.5 })}>years</div>
      <div
        style={label({
          left: 26,
          top: 331,
          fontSize: 30,
          transform: "translate(-50%, -50%) rotate(-90deg)",
        })}
      >
        time residual in minutes
      </div>
    </div>
  );
}
